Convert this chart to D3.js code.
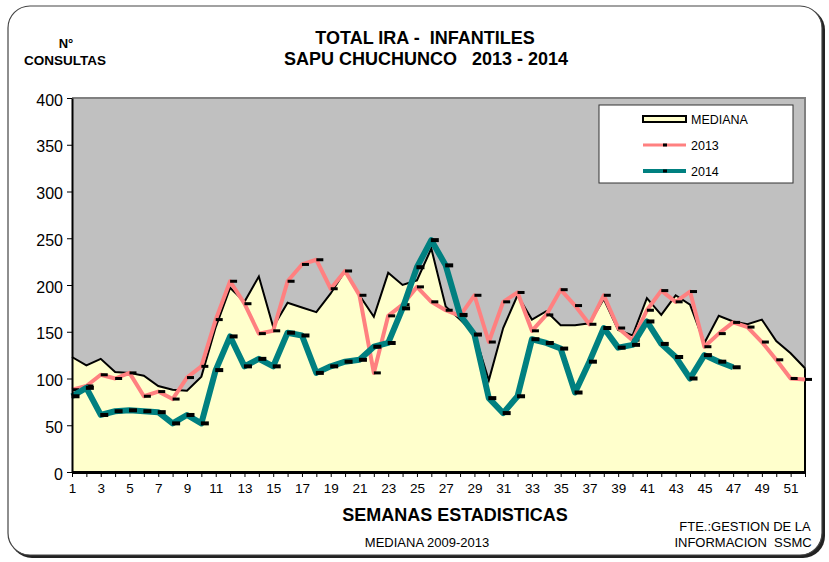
<!DOCTYPE html>
<html>
<head>
<meta charset="utf-8">
<script src="https://cdn.jsdelivr.net/npm/d3@7"></script>
<style>
  body { margin: 0; background: #fff; }
  text { font-family: Arial, "Liberation Sans", sans-serif; }
</style>
</head>
<body>
<script>
var width = 829;
var height = 562;

// semanas estadisticas 1..52
var weeks = d3.range(1, 53);

var mediana = [123, 114, 121, 107, 106, 103, 92, 88, 87, 102, 155, 197, 182, 209, 155, 181, 176, 171, 191, 215,
    189, 166, 213, 200, 205, 239, 177, 163, 148, 98, 154, 189, 163, 172, 157, 157, 159, 185, 152, 146,
    186, 168, 189, 179, 138, 167, 161, 158, 163, 140, 127, 111];

var y2013 = [88, 92, 104, 100, 106, 81, 86, 78, 101, 113, 163, 204, 180, 148, 151, 204, 222, 227, 196, 215,
    189, 106, 167, 179, 198, 182, 173, 167, 189, 139, 182, 192, 151, 168, 195, 178, 158, 189, 154, 141,
    173, 194, 182, 193, 134, 148, 160, 155, 139, 120, 100, 99];

var y2014 = [81, 90, 61, 65, 66, 65, 64, 52, 61, 52, 109, 145, 113, 121, 113, 149, 146, 106, 113, 118,
    120, 134, 138, 175, 219, 248, 221, 168, 147, 79, 63, 81, 142, 138, 132, 85, 118, 154, 133, 136,
    161, 137, 123, 100, 125, 118, 112];

var yTicks = [0, 50, 100, 150, 200, 250, 300, 350, 400];

var svg = d3.select("body")
    .append("svg")
    .attr("width", width)
    .attr("height", height)
;

// marco redondeado con sombra
svg.append("rect")
    .attr("x", 10).attr("y", 8)
    .attr("width", 815).attr("height", 550)
    .attr("rx", 22)
    .attr("fill", "#222");
svg.append("rect")
    .attr("x", 8).attr("y", 6)
    .attr("width", 814).attr("height", 549)
    .attr("rx", 22)
    .attr("fill", "#fff")
    .attr("stroke", "#444")
    .attr("stroke-width", 1.2);

var x = d3.scaleLinear().domain([1, 52]).range([72, 805]);
var y = d3.scaleLinear().domain([0, 400]).range([472, 98]);

// fondo gris del area de trazado
svg.append("rect")
    .attr("x", x(1)).attr("y", y(400))
    .attr("width", x(52) - x(1)).attr("height", y(0) - y(400))
    .attr("fill", "#C0C0C0");
svg.append("path")
    .attr("d", `M${x(1)},${y(400)}H${x(52)}V${y(0)}`)
    .attr("fill", "none")
    .attr("stroke", "#808080")
    .attr("stroke-width", 2);

// mediana como area
var area = d3.area()
    .x((d, i) => x(weeks[i]))
    .y0(y(0))
    .y1(d => y(d));
svg.append("path")
    .datum(mediana)
    .attr("d", area)
    .attr("fill", "#FFFFCC");
svg.append("path")
    .datum(mediana)
    .attr("d", d3.line().x((d, i) => x(weeks[i])).y(d => y(d)))
    .attr("fill", "none")
    .attr("stroke", "#000")
    .attr("stroke-width", 2);
svg.append("line")
    .attr("x1", x(52)).attr("x2", x(52))
    .attr("y1", y(mediana[51])).attr("y2", y(0))
    .attr("stroke", "#000").attr("stroke-width", 2);

var line = d3.line()
    .x((d, i) => x(weeks[i]))
    .y(d => y(d));

function drawSeries(data, color, lw, mw, mh) {
    svg.append("path")
        .datum(data)
        .attr("d", line)
        .attr("fill", "none")
        .attr("stroke", color)
        .attr("stroke-width", lw)
        .attr("stroke-linejoin", "round");
    svg.append("g")
        .selectAll("rect")
        .data(data)
        .enter().append("rect")
        .attr("x", (d, i) => x(weeks[i]) + 3.5 - mw / 2)
        .attr("y", d => y(d) - mh / 2)
        .attr("width", mw)
        .attr("height", mh)
        .attr("fill", "#000");
}

drawSeries(y2013, "#FF8080", 4, 7, 3);
drawSeries(y2014, "#008080", 6, 8, 4);

// ejes
var yAxis = d3.axisLeft(y).tickValues(yTicks).tickSize(5).tickSizeOuter(0);
var gy = svg.append("g")
    .attr("transform", `translate(${x(1)},0)`)
    .call(yAxis);
gy.select(".domain").attr("stroke", "#000").attr("stroke-width", 2);
gy.selectAll("text").attr("font-size", 16).attr("fill", "#000").attr("x", -9).attr("dy", "0.45em");

var xAxis = d3.axisBottom(x)
    .tickValues(weeks)
    .tickSize(5)
    .tickSizeOuter(0)
    .tickFormat(d => d % 2 === 1 ? d : "");
var gx = svg.append("g")
    .attr("transform", `translate(0,${y(0)})`)
    .call(xAxis);
gx.select(".domain").attr("stroke", "#000").attr("stroke-width", 3);
gx.selectAll("text").attr("font-size", 13.5).attr("fill", "#000").attr("dy", "0.95em");

// titulos
svg.append("text")
    .attr("x", 425).attr("y", 44)
    .attr("text-anchor", "middle")
    .attr("font-size", 18).attr("font-weight", "bold")
    .style("white-space", "pre")
    .text("TOTAL IRA -  INFANTILES");
svg.append("text")
    .attr("x", 426).attr("y", 65)
    .attr("text-anchor", "middle")
    .attr("font-size", 18).attr("font-weight", "bold")
    .style("white-space", "pre")
    .text("SAPU CHUCHUNCO   2013 - 2014");
svg.append("text")
    .attr("x", 66).attr("y", 48)
    .attr("text-anchor", "middle")
    .attr("font-size", 13).attr("font-weight", "bold")
    .text("N°");
svg.append("text")
    .attr("x", 65).attr("y", 65)
    .attr("text-anchor", "middle")
    .attr("font-size", 13.5).attr("font-weight", "bold")
    .text("CONSULTAS");
svg.append("text")
    .attr("x", 455).attr("y", 521)
    .attr("text-anchor", "middle")
    .attr("font-size", 18).attr("font-weight", "bold")
    .text("SEMANAS ESTADISTICAS");
svg.append("text")
    .attr("x", 427).attr("y", 547)
    .attr("text-anchor", "middle")
    .attr("font-size", 13)
    .text("MEDIANA 2009-2013");
svg.append("text")
    .attr("x", 745).attr("y", 531)
    .attr("text-anchor", "middle")
    .attr("font-size", 13)
    .text("FTE.:GESTION DE LA");
svg.append("text")
    .attr("x", 743).attr("y", 547)
    .attr("text-anchor", "middle")
    .attr("font-size", 13)
    .style("white-space", "pre")
    .text("INFORMACION  SSMC");

// leyenda
var legend = svg.append("g").attr("transform", "translate(599,105)");
legend.append("rect")
    .attr("width", 194).attr("height", 78)
    .attr("fill", "#fff")
    .attr("stroke", "#333").attr("stroke-width", 1);
legend.append("rect")
    .attr("x", 44).attr("y", 11)
    .attr("width", 43).attr("height", 6)
    .attr("fill", "#FFFFCC")
    .attr("stroke", "#000").attr("stroke-width", 2);
var items = [
    {label: "MEDIANA", y: 14},
    {label: "2013", y: 40, color: "#FF8080", lw: 3},
    {label: "2014", y: 66, color: "#008080", lw: 4},
];
items.forEach(function(d) {
    if (d.color) {
        legend.append("line")
            .attr("x1", 44).attr("x2", 87)
            .attr("y1", d.y).attr("y2", d.y)
            .attr("stroke", d.color).attr("stroke-width", d.lw);
        legend.append("rect")
            .attr("x", 64).attr("y", d.y - 1.5)
            .attr("width", 4).attr("height", 3)
            .attr("fill", "#000");
    }
    legend.append("text")
        .attr("x", 92).attr("y", d.y + 4.5)
        .attr("font-size", 12.5)
        .text(d.label);
});
</script>
</body>
</html>
